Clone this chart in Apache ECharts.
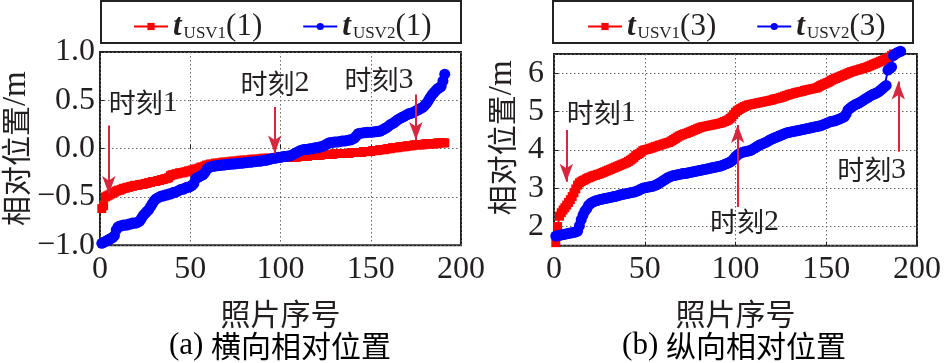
<!DOCTYPE html>
<html><head><meta charset="utf-8">
<script src="https://cdn.jsdelivr.net/npm/echarts@6/dist/echarts.min.js"></script>
<style>html,body{margin:0;padding:0;background:#fff}#c{width:946px;height:363px}</style>
</head><body><div id="c"></div>
<script>
// ---- data ----
// (a) lateral relative position, photo index starts at 1
const latUSV1 = [
-0.62,-0.59,-0.50,-0.49,-0.48,-0.47,-0.46,-0.45,-0.44,-0.43,
-0.43,-0.42,-0.41,-0.41,-0.40,-0.40,-0.39,-0.39,-0.38,-0.38,
-0.38,-0.37,-0.37,-0.37,-0.36,-0.36,-0.35,-0.35,-0.34,-0.34,
-0.34,-0.33,-0.33,-0.32,-0.32,-0.31,-0.31,-0.30,-0.28,-0.27,
-0.27,-0.26,-0.26,-0.25,-0.25,-0.25,-0.24,-0.24,-0.23,-0.23,
-0.22,-0.22,-0.21,-0.21,-0.20,-0.19,-0.19,-0.18,-0.17,-0.17,
-0.16,-0.16,-0.16,-0.15,-0.15,-0.15,-0.15,-0.14,-0.14,-0.14,
-0.14,-0.14,-0.13,-0.13,-0.13,-0.13,-0.13,-0.12,-0.12,-0.12,
-0.12,-0.12,-0.12,-0.11,-0.11,-0.11,-0.11,-0.11,-0.11,-0.10,
-0.10,-0.10,-0.10,-0.10,-0.10,-0.10,-0.10,-0.10,-0.09,-0.09,
-0.09,-0.09,-0.09,-0.09,-0.09,-0.09,-0.09,-0.09,-0.09,-0.08,
-0.08,-0.08,-0.08,-0.08,-0.08,-0.07,-0.07,-0.07,-0.07,-0.07,
-0.07,-0.07,-0.06,-0.06,-0.06,-0.06,-0.06,-0.06,-0.06,-0.05,
-0.05,-0.05,-0.05,-0.05,-0.05,-0.05,-0.05,-0.05,-0.04,-0.04,
-0.04,-0.04,-0.04,-0.04,-0.04,-0.03,-0.03,-0.03,-0.03,-0.03,
-0.02,-0.02,-0.02,-0.02,-0.01,-0.01,-0.01,-0.01,0.00,0.00,
0.00,0.01,0.01,0.01,0.01,0.02,0.02,0.02,0.02,0.03,
0.03,0.03,0.03,0.04,0.04,0.04,0.04,0.04,0.04,0.05,
0.05,0.05,0.05,0.05,0.05,0.05,0.06,0.06,0.06,0.06,0.06];
const latUSV2 = [
-0.98,-0.97,-0.96,-0.95,-0.94,-0.93,-0.92,-0.90,-0.84,-0.81,
-0.80,-0.80,-0.79,-0.79,-0.79,-0.78,-0.78,-0.77,-0.77,-0.77,
-0.76,-0.75,-0.72,-0.69,-0.67,-0.65,-0.63,-0.60,-0.57,-0.54,
-0.52,-0.51,-0.50,-0.49,-0.49,-0.48,-0.48,-0.47,-0.47,-0.46,
-0.45,-0.45,-0.44,-0.43,-0.42,-0.42,-0.41,-0.40,-0.40,-0.39,
-0.38,-0.36,-0.31,-0.30,-0.29,-0.28,-0.27,-0.25,-0.22,-0.20,
-0.19,-0.185,-0.18,-0.18,-0.175,-0.175,-0.17,-0.17,-0.17,-0.165,
-0.165,-0.16,-0.16,-0.16,-0.155,-0.155,-0.15,-0.15,-0.15,-0.145,
-0.145,-0.14,-0.14,-0.14,-0.135,-0.135,-0.13,-0.13,-0.13,-0.125,
-0.12,-0.12,-0.115,-0.11,-0.105,-0.10,-0.10,-0.095,-0.09,-0.09,
-0.085,-0.08,-0.08,-0.075,-0.075,-0.07,-0.06,-0.05,-0.04,-0.03,
-0.02,-0.015,-0.01,-0.01,-0.01,0.00,0.00,0.00,0.01,0.01,
0.01,0.02,0.02,0.03,0.04,0.05,0.06,0.06,0.065,0.07,
0.07,0.07,0.075,0.08,0.08,0.08,0.085,0.09,0.09,0.10,
0.11,0.13,0.155,0.16,0.16,0.165,0.165,0.17,0.17,0.17,
0.17,0.175,0.175,0.18,0.18,0.19,0.20,0.21,0.22,0.235,
0.25,0.26,0.27,0.285,0.30,0.31,0.32,0.33,0.34,0.35,
0.36,0.365,0.37,0.38,0.39,0.40,0.41,0.42,0.43,0.45,
0.47,0.50,0.53,0.56,0.58,0.60,0.62,0.63,0.645,0.70,0.77];
// (b) longitudinal relative position
const lonUSV1 = [
1.58,2.00,2.27,2.36,2.43,2.49,2.56,2.63,2.70,2.78,
2.88,2.98,3.08,3.14,3.17,3.20,3.22,3.25,3.27,3.29,
3.31,3.33,3.34,3.36,3.37,3.39,3.41,3.43,3.45,3.47,
3.49,3.51,3.53,3.55,3.57,3.59,3.61,3.63,3.65,3.67,
3.70,3.73,3.76,3.80,3.85,3.88,3.90,3.94,3.98,4.00,
4.01,4.02,4.04,4.05,4.07,4.09,4.10,4.12,4.13,4.15,
4.16,4.18,4.19,4.21,4.24,4.27,4.30,4.33,4.36,4.38,
4.40,4.42,4.43,4.45,4.47,4.49,4.51,4.53,4.55,4.57,
4.59,4.60,4.61,4.62,4.63,4.64,4.65,4.66,4.67,4.68,
4.69,4.70,4.72,4.74,4.76,4.78,4.82,4.86,4.92,4.98,
5.02,5.05,5.08,5.11,5.13,5.15,5.17,5.18,5.19,5.20,
5.21,5.22,5.23,5.24,5.25,5.26,5.27,5.28,5.29,5.30,
5.32,5.33,5.34,5.35,5.37,5.38,5.40,5.42,5.43,5.45,
5.46,5.47,5.49,5.50,5.51,5.52,5.53,5.55,5.56,5.57,
5.58,5.59,5.60,5.61,5.62,5.65,5.68,5.70,5.72,5.74,
5.76,5.79,5.82,5.84,5.86,5.88,5.90,5.92,5.94,5.96,
5.98,6.00,6.02,6.04,6.05,6.07,6.08,6.09,6.11,6.12,
6.14,6.15,6.17,6.19,6.21,6.23,6.25,6.27,6.29,6.31,
6.33,6.35,6.37,6.39,6.42,6.46,6.50];
const lonUSV2 = [
1.75,1.76,1.77,1.78,1.79,1.80,1.81,1.82,1.83,1.84,
1.85,1.86,1.88,2.02,2.18,2.30,2.40,2.46,2.55,2.60,
2.63,2.65,2.67,2.68,2.70,2.71,2.72,2.73,2.74,2.75,
2.76,2.77,2.78,2.79,2.80,2.82,2.83,2.84,2.85,2.86,
2.87,2.88,2.89,2.90,2.91,2.93,2.95,2.98,3.00,3.01,
3.02,3.03,3.04,3.05,3.06,3.08,3.10,3.13,3.16,3.19,
3.22,3.25,3.28,3.30,3.32,3.33,3.34,3.35,3.36,3.37,
3.38,3.38,3.39,3.40,3.41,3.42,3.43,3.44,3.45,3.46,
3.47,3.48,3.49,3.50,3.51,3.52,3.53,3.54,3.55,3.56,
3.57,3.58,3.60,3.62,3.64,3.66,3.68,3.71,3.76,3.82,
3.86,3.90,3.92,3.94,3.95,3.96,3.97,3.98,4.00,4.03,
4.06,4.09,4.12,4.14,4.16,4.18,4.20,4.23,4.26,4.28,
4.30,4.32,4.34,4.36,4.38,4.40,4.42,4.44,4.45,4.46,
4.47,4.48,4.49,4.50,4.51,4.52,4.53,4.54,4.55,4.56,
4.57,4.58,4.59,4.60,4.61,4.62,4.63,4.65,4.67,4.69,
4.71,4.73,4.74,4.75,4.76,4.78,4.80,4.82,4.84,4.87,
4.94,5.04,5.08,5.12,5.15,5.18,5.20,5.22,5.25,5.28,
5.31,5.34,5.37,5.40,5.43,5.45,5.47,5.49,5.52,5.56,
5.60,5.64,5.68,6.08,6.12,6.16,6.46,6.50,6.53,6.55,6.57];
const latTicks = [-1.0,-0.5,0.0,0.5,1.0];
const lonTicks = [2,3,4,5,6];
// annotation texts and where they point (data coordinates)
const notesA = [{c:'时刻',d:'1',at:[24,0.47],from:[4.9,0.24],to:[4.9,-0.47]},
                {c:'时刻',d:'2',at:[97,0.675],from:[96.8,0.43],to:[96.8,-0.05]},
                {c:'时刻',d:'3',at:[154.6,0.71],from:[175,0.56],to:[175,0.09]}];
const notesB = [{c:'时刻',d:'1',at:[26,4.97],from:[6.8,4.52],to:[6.8,3.17]},
                {c:'时刻',d:'2',at:[105,2.12],from:[101.2,2.51],to:[101.2,4.65]},
                {c:'时刻',d:'3',at:[175,3.48],from:[189.7,3.95],to:[189.7,5.78]}];

// ---- chart ----
const SERIF = "'Liberation Serif','Times New Roman',serif";
const CJK = "'Noto Sans CJK SC','Noto Sans CJK JP',sans-serif";
const TXT = '#231f20';
const RED = '#ff0000', BLUE = '#0000ff', ARROW = '#d7263d';
const pairs = arr => arr.map((v,i)=>[i+1, v]);
const chart = echarts.init(document.getElementById('c'), null, {renderer:'canvas'});

const mixRich = (cjkSize, latSize) => ({
  c:{fontFamily:CJK, fontSize:cjkSize, color:TXT, lineHeight:cjkSize+4},
  l:{fontFamily:SERIF, fontSize:latSize, color:TXT, lineHeight:cjkSize+4},
  p:{width:24, height:10}
});

function xAxisCfg(gi){
  return {gridIndex:gi, type:'value', min:0, max:200, interval:50,
    name:'{c|照片序号}', nameLocation:'middle', nameGap:51,
    nameTextStyle:{fontFamily:CJK, fontSize:30, color:TXT, rich:mixRich(30,32)},
    axisLine:{show:false}, axisTick:{show:true, inside:true, length:4, lineStyle:{color:'#222'}},
    axisLabel:{fontFamily:SERIF, fontSize:32, color:TXT, margin:8},
    splitLine:{show:true, lineStyle:{type:[1.5,2.5], color:'#666', width:1}}};
}
function yAxisCfg(gi, min, max, interval, fmt, gap, margin, name){
  const c = {gridIndex:gi, type:'value', min:min, max:max,
    name:name, nameLocation:'middle', nameGap:gap,
    nameTextStyle:{fontFamily:CJK, fontSize:30, color:TXT, rich:mixRich(30,33)},
    axisLine:{show:false}, axisTick:{show:true, inside:true, length:4, lineStyle:{color:'#222'}},
    axisLabel:{fontFamily:SERIF, fontSize:32, color:TXT, margin:margin, formatter:fmt, showMinLabel:interval!==null, showMaxLabel:interval!==null},
    splitLine:{show:true, lineStyle:{type:[1.5,2.5], color:'#666', width:1}}};
  if (interval !== null) c.interval = interval;
  return c;
}
function notesMarks(notes){
  return {
    markLine:{silent:true, animation:false, symbol:['none','arrow'],
      lineStyle:{color:ARROW, width:2, type:'solid'}, label:{show:false},
      emphasis:{disabled:true},
      data: notes.map(n=>[{coord:n.from, symbol:'none'},{coord:n.to, symbol:'arrow', symbolSize:[10,18]}])},
    markPoint:{silent:true, animation:false, symbol:'circle', symbolSize:1,
      itemStyle:{color:'rgba(0,0,0,0)'},
      label:{show:true, position:'inside', formatter:p=>'{c|'+p.data.c+'}{l|'+p.data.d+'}', rich:mixRich(27,30)},
      data: notes.map(n=>({name:n.c+n.d, c:n.c, d:n.d, coord:n.at}))}
  };
}
function seriesCfg(name, gi, data, color, symbol, size, extra){
  return Object.assign({name:name, type:'line', xAxisIndex:gi, yAxisIndex:gi, data:data,
    symbol:symbol, symbolSize:size, showSymbol:true, clip:false,
    lineStyle:{color:color, width:2}, itemStyle:{color:color, borderColor:color, borderWidth:0},
    emphasis:{disabled:true}, animation:false, z:(color===BLUE?3:2)}, extra||{});
}
const legendRich = {
  t:{fontFamily:SERIF, fontSize:31, fontStyle:'italic', fontWeight:'bold', color:TXT},
  s:{fontFamily:SERIF, fontSize:17, color:TXT, verticalAlign:'bottom', padding:[0,0,0,2]},
  n:{fontFamily:SERIF, fontSize:31, color:TXT}
};
const legendLabels = {
  a1:'{t|t}{s|USV1}{n|(1)}', a2:'{t|t}{s|USV2}{n|(1)}',
  b1:'{t|t}{s|USV1}{n|(3)}', b2:'{t|t}{s|USV2}{n|(3)}'
};
function legendCfg(left, names){
  return {left:left, top:6, data:names, itemWidth:34, itemHeight:9, itemGap:40, selectedMode:false,
    formatter:n=>legendLabels[n], textStyle:{rich:legendRich, color:TXT, fontFamily:SERIF, fontSize:31}};
}
function caption(x, tag, text){
  return {type:'text', x:x, y:346, silent:true,
    style:{text:'{l|'+tag+'\u00a0}{c|'+text+'}', rich:mixRich(30,31), textAlign:'center', textVerticalAlign:'middle'}};
}

const option = {
  animation:false,
  backgroundColor:'#ffffff',
  grid:[
    {left:100, top:52, width:361, height:193.3, outerBoundsMode:'none', containLabel:false, show:true, borderColor:'#222', borderWidth:2, backgroundColor:'rgba(0,0,0,0)'},
    {left:554, top:54, width:363, height:191.7, outerBoundsMode:'none', containLabel:false, show:true, borderColor:'#222', borderWidth:2, backgroundColor:'rgba(0,0,0,0)'}
  ],
  xAxis:[xAxisCfg(0), xAxisCfg(1)],
  yAxis:[
    yAxisCfg(0, latTicks[0], latTicks[latTicks.length-1], 0.5, v=>v.toFixed(1).replace('-','\u2212'), 67, 5, '{c|相对位置}{l|/m}'),
    yAxisCfg(1, 1.5, 6.5, null, v=>(Math.abs(v-Math.round(v))<1e-6 && lonTicks.indexOf(Math.round(v))>=0)?String(Math.round(v)):'', 35, 10, '{p|}{c|相对位置}{l|/m}')
  ],
  legend:[legendCfg(128,['a1','a2']), legendCfg(582,['b1','b2'])],
  graphic:[
    {type:'rect', shape:{x:101, y:1, width:360, height:42}, style:{fill:'none', stroke:'#222', lineWidth:2}, silent:true, z:-1},
    {type:'rect', shape:{x:553, y:1, width:360, height:42}, style:{fill:'none', stroke:'#222', lineWidth:2}, silent:true, z:-1},
    caption(280, '(a)', '横向相对位置'),
    caption(734, '(b)', '纵向相对位置')
  ],
  series:[
    seriesCfg('a1', 0, pairs(latUSV1), RED, 'rect', 9, notesMarks(notesA)),
    seriesCfg('a2', 0, pairs(latUSV2), BLUE, 'circle', 11),
    seriesCfg('b1', 1, pairs(lonUSV1), RED, 'rect', 9, notesMarks(notesB)),
    seriesCfg('b2', 1, pairs(lonUSV2), BLUE, 'circle', 11)
  ]
};
chart.setOption(option);
</script>
</body></html>
